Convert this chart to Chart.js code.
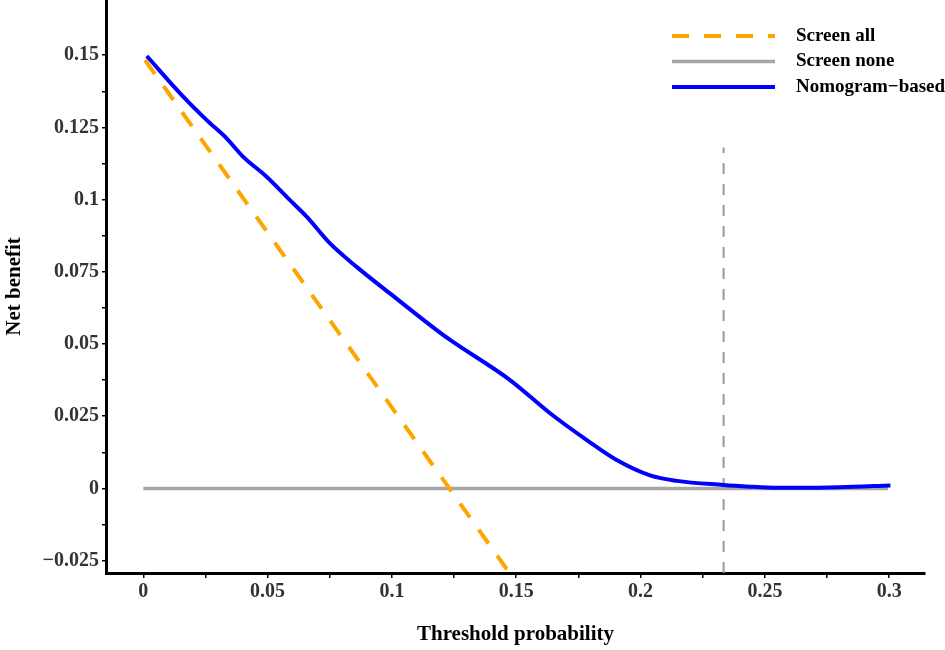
<!DOCTYPE html>
<html lang="en">
<head>
  <meta charset="UTF-8" />
  <title>Decision curve</title>
  <script src="https://cdn.jsdelivr.net/npm/chart.js"></script>
  <style>
    body {
      margin: 0;
      padding: 0;
      background: #fff;
    }

    #chart-container {
      width: 945px;
      height: 650px;
      position: relative;
    }
  </style>
</head>
<body>
  <div id="chart-container">
    <canvas id="myChart"></canvas>
  </div>

  <script>
    // threshold probability (x) and net benefit (y)
    const screenAllX = [0.0007, 0.1462];
    const screenAllY = [0.1483, -0.0280];

    const screenNoneX = [0, 0.2995];
    const screenNoneY = [0, 0];

    const nomogramX = [0.0014, 0.0148, 0.0255, 0.0335, 0.0402, 0.0496, 0.059, 0.0657, 0.0751, 0.0858,
      0.0992, 0.118, 0.1234, 0.1475, 0.1636, 0.1784, 0.1904, 0.2038, 0.2146, 0.2333,
      0.244, 0.2508, 0.2641, 0.28, 0.3005];
    const nomogramY = [0.1497, 0.1368, 0.1275, 0.1212, 0.1148, 0.1079, 0.0998, 0.0941, 0.0848, 0.0767,
      0.0675, 0.0548, 0.0514, 0.0375, 0.026, 0.0167, 0.0098, 0.0045, 0.0026, 0.0012,
      0.0006, 0.0003, 0.0002, 0.0004, 0.0010];

    // dashed vertical marker
    const cutoffX = [0.2334, 0.2334];
    const cutoffY = [-0.0293, 0.118];

    const xTickValues = [0, 0.025, 0.05, 0.075, 0.1, 0.125, 0.15, 0.175, 0.2, 0.225, 0.25, 0.275, 0.3];
    const xTickLabels = ['0', '', '0.05', '', '0.1', '', '0.15', '', '0.2', '', '0.25', '', '0.3'];
    const yTickValues = [-0.025, -0.0125, 0, 0.0125, 0.025, 0.0375, 0.05, 0.0625, 0.075, 0.0875, 0.1, 0.1125, 0.125, 0.1375, 0.15];
    const yTickLabels = ['\u22120.025', '', '0', '', '0.025', '', '0.05', '', '0.075', '', '0.1', '', '0.125', '', '0.15'];

    const toPoints = (xs, ys) => xs.map((x, i) => ({ x: x, y: ys[i] }));

    const serif = '"Liberation Serif", "Times New Roman", serif';

    // legend drawn inside the plot, top right
    const insideLegend = {
      id: 'insideLegend',
      afterDatasetsDraw(chart) {
        const c = chart.ctx;
        c.save();
        c.font = 'bold 19px ' + serif;
        c.textBaseline = 'middle';
        c.textAlign = 'left';
        chart.data.datasets.filter(d => d.label).forEach((d, i) => {
          const y = 36 + i * 25.5;
          c.beginPath();
          c.strokeStyle = d.borderColor;
          c.lineWidth = d.borderWidth;
          c.setLineDash(d.borderDash || []);
          c.moveTo(672, y);
          c.lineTo(775, y);
          c.stroke();
          c.setLineDash([]);
          c.fillStyle = '#000';
          c.fillText(d.label, 796, y);
        });
        c.restore();
      }
    };

    const ctx = document.getElementById('myChart').getContext('2d');

    new Chart(ctx, {
      type: 'line',
      data: {
        datasets: [
          {
            label: 'Screen all',
            data: toPoints(screenAllX, screenAllY),
            borderColor: '#FFA500',
            borderWidth: 4,
            borderDash: [17, 15],
            pointRadius: 0,
            order: 1
          },
          {
            label: 'Screen none',
            data: toPoints(screenNoneX, screenNoneY),
            borderColor: '#A6A6A6',
            borderWidth: 3.5,
            pointRadius: 0,
            order: 2
          },
          {
            label: 'Nomogram\u2212based',
            data: toPoints(nomogramX, nomogramY),
            borderColor: '#0000FF',
            borderWidth: 4,
            pointRadius: 0,
            cubicInterpolationMode: 'monotone',
            order: 0
          },
          {
            data: toPoints(cutoffX, cutoffY),
            borderColor: '#999999',
            borderWidth: 2,
            borderDash: [11, 10],
            pointRadius: 0,
            order: 3
          }
        ]
      },
      options: {
        responsive: true,
        maintainAspectRatio: false,
        animation: false,
        layout: { padding: { left: 0, right: 20, top: 0, bottom: 0 } },
        scales: {
          x: {
            type: 'linear',
            min: -0.015,
            max: 0.3144,
            afterBuildTicks: s => { s.ticks = xTickValues.map(v => ({ value: v })); },
            afterFit: s => { s.height = 77; s.paddingLeft = 0; s.paddingRight = 0; },
            grid: { drawOnChartArea: false, drawTicks: true, tickLength: 5, color: '#000', lineWidth: 1.5 },
            border: { display: true, color: '#000', width: 3 },
            ticks: {
              autoSkip: false,
              maxRotation: 0,
              padding: 2,
              color: '#333',
              font: { family: serif, size: 20, weight: 'bold' },
              callback: (v, i) => xTickLabels[i]
            },
            title: {
              display: true,
              text: 'Threshold probability',
              color: '#000',
              padding: { top: 0, bottom: 3 },
              font: { family: serif, size: 21, weight: 'bold' }
            }
          },
          y: {
            type: 'linear',
            min: -0.0293,
            max: 0.1691,
            afterBuildTicks: s => { s.ticks = yTickValues.map(v => ({ value: v })); },
            afterFit: s => { s.width = 106; s.paddingTop = 0; s.paddingBottom = 0; },
            grid: { drawOnChartArea: false, drawTicks: true, tickLength: 4, color: '#000', lineWidth: 1.5 },
            border: { display: true, color: '#000', width: 3 },
            ticks: {
              autoSkip: false,
              padding: 3,
              color: '#333',
              font: { family: serif, size: 20, weight: 'bold' },
              callback: (v, i) => yTickLabels[i]
            },
            title: {
              display: true,
              text: 'Net benefit',
              color: '#000',
              padding: { top: 2, bottom: 0 },
              font: { family: serif, size: 21, weight: 'bold' }
            }
          }
        },
        plugins: {
          legend: { display: false },
          tooltip: { enabled: false }
        }
      },
      plugins: [insideLegend]
    });
  </script>
</body>
</html>
